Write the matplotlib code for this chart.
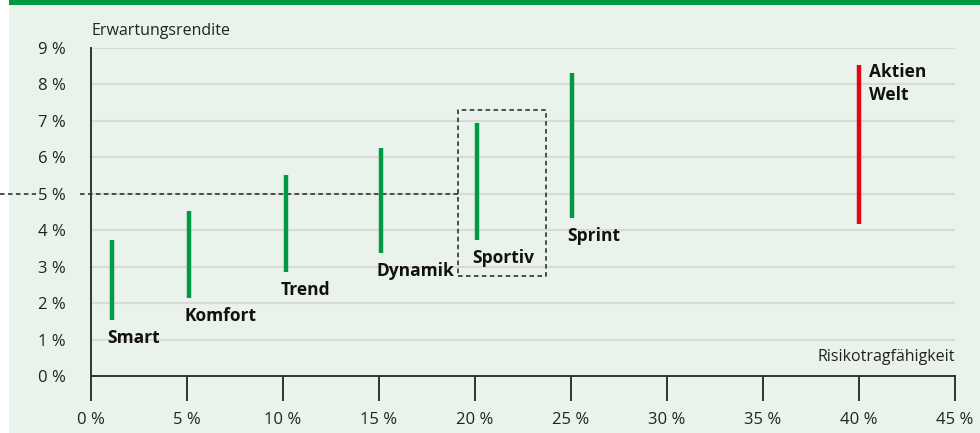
import matplotlib
matplotlib.use("Agg")
import matplotlib.pyplot as plt
from matplotlib.patches import Rectangle

plt.rcParams['font.family'] = ['Open Sans', 'DejaVu Sans']

# data
names = ['Smart', 'Komfort', 'Trend', 'Dynamik', 'Sportiv', 'Sprint', 'Aktien\nWelt']
risk = [1.1, 5.1, 10.15, 15.1, 20.1, 25.05, 40.0]
low = [1.55, 2.15, 2.85, 3.38, 3.73, 4.34, 4.17]
high = [3.72, 4.52, 5.52, 6.25, 6.93, 8.31, 8.53]
colors = ['#009a44'] * 6 + ['#e30613']

box_x = (19.12, 23.7)
box_y = (2.74, 7.3)
ref_y = 5

xticks = list(range(0, 50, 5))
yticks = list(range(0, 10))

bg = '#eaf3eb'

fig = plt.figure(figsize=(9.8, 4.33), dpi=100)
fig.patch.set_facecolor('white')
fig.add_artist(Rectangle((9 / 980, 0), 1, 1, transform=fig.transFigure,
                         facecolor=bg, edgecolor='none', zorder=-10))
fig.add_artist(Rectangle((9 / 980, 1 - 5 / 433), 1, 5 / 433, transform=fig.transFigure,
                         facecolor='#009a3e', edgecolor='none', zorder=-9))

ax = fig.add_axes([91 / 980, 1 - 376 / 433, 864 / 980, 328 / 433])
ax.set_facecolor('none')
ax.set_xlim(0, 45)
ax.set_ylim(0, 9)

for y in yticks[1:]:
    ax.axhline(y, color='#d8dad8', lw=1.6, zorder=0)

for x, lo, hi, c, n in zip(risk, low, high, colors, names):
    ax.plot([x, x], [lo, hi], color=c, lw=3.2, solid_capstyle='butt', zorder=3)
    if '\n' in n:
        ax.text(x + 0.5, hi + 0.05, n, ha='left', va='top', fontsize=12.5,
                fontweight='bold', color='#111111', linespacing=1.35)
    else:
        ax.annotate(n, (x, lo), xytext=(-3.5, -6.5), textcoords='offset points',
                    ha='left', va='top', fontsize=12.5, fontweight='bold', color='#111111')

# dashed box around Sportiv and reference line at 5 %
dash = (0, (3, 2.2))
ax.plot([box_x[0], box_x[1], box_x[1], box_x[0], box_x[0]],
        [box_y[0], box_y[0], box_y[1], box_y[1], box_y[0]],
        color='#222222', lw=1.1, ls=dash, zorder=4)
# line broken where the "5 %" tick label sits
ax.plot([-91 / 19.2, -55 / 19.2], [ref_y, ref_y], color='#222222', lw=1.1,
        ls=dash, clip_on=False, zorder=2)
ax.plot([-11 / 19.2, box_x[0]], [ref_y, ref_y], color='#222222', lw=1.1,
        ls=dash, clip_on=False, zorder=2)

ax.set_xticks(xticks)
ax.set_xticklabels([f'{t} %' for t in xticks])
ax.set_yticks(yticks)
ax.set_yticklabels([f'{t} %' for t in yticks])
ax.tick_params(axis='x', length=18, width=1.4, color='#333333', direction='out',
               labelsize=12, labelcolor='#222222', pad=8)
ax.tick_params(axis='y', length=0, labelsize=12, labelcolor='#222222', pad=18)

for s in ['top', 'right']:
    ax.spines[s].set_visible(False)
for s in ['left', 'bottom']:
    ax.spines[s].set_color('#333333')
    ax.spines[s].set_linewidth(1.4)

ax.text(0, 9.25, 'Erwartungsrendite', ha='left', va='bottom', fontsize=11.5, color='#222222')
ax.text(45, 0.3, 'Risikotragfähigkeit', ha='right', va='bottom', fontsize=11.5, color='#222222')

fig.savefig('out.png', dpi=100, facecolor=fig.get_facecolor())
